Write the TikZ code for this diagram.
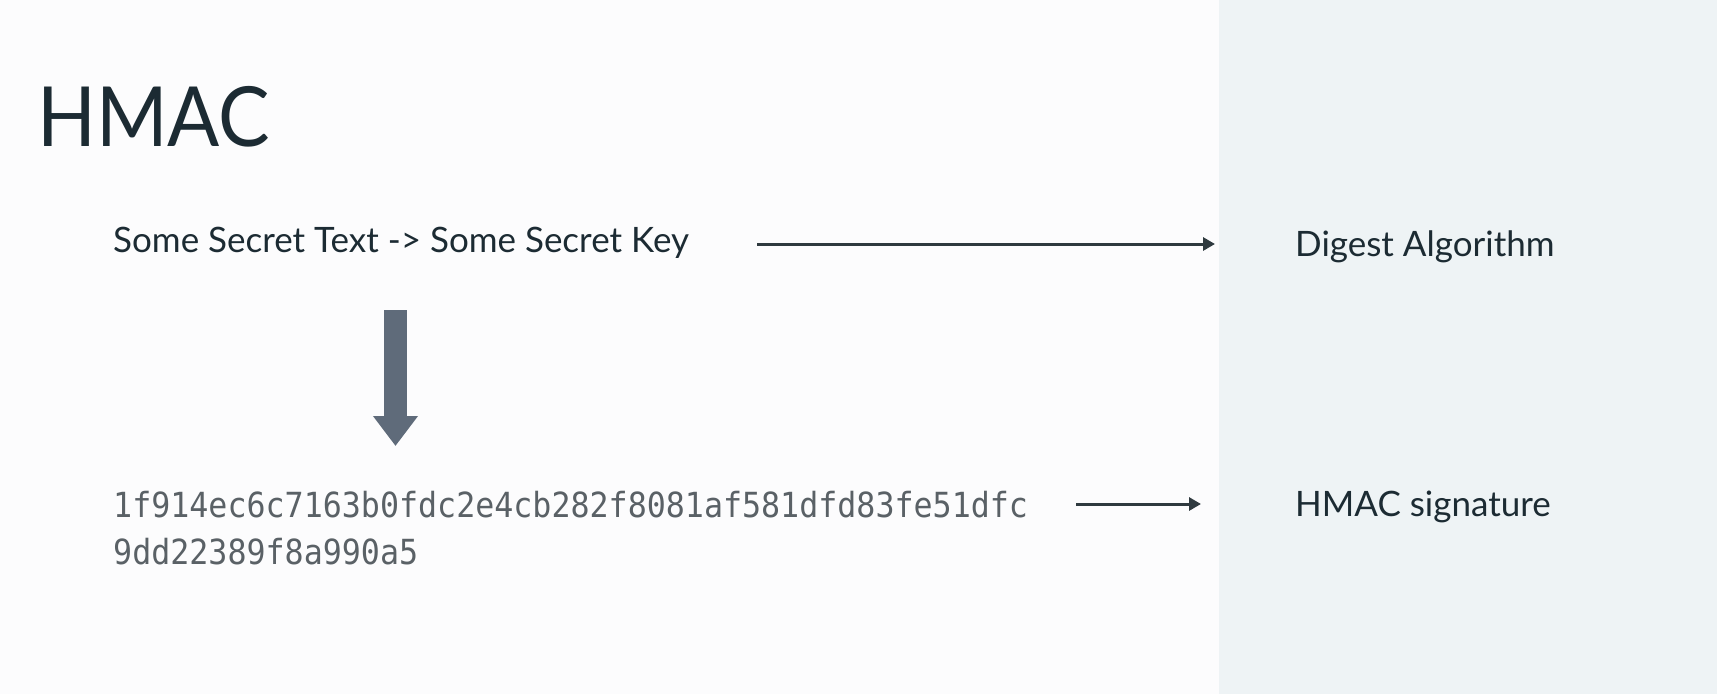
\documentclass[tikz,border=0pt]{standalone}
\usepackage{fontspec}
\setmainfont{Lato}
\setmonofont[FakeStretch=0.915]{DejaVu Sans Mono}
\newfontfamily\titlefont[FakeStretch=0.93]{Lato}
\usetikzlibrary{arrows.meta}
\definecolor{bgleft}{HTML}{FCFCFD}
\definecolor{panel}{HTML}{EEF3F5}
\definecolor{ink}{HTML}{1C2B33}
\definecolor{lineink}{HTML}{2F3A3F}
\definecolor{hexink}{HTML}{5A6166}
\definecolor{bigarrow}{HTML}{5F6B7A}
\tikzset{
  lbl/.style={anchor=base west, inner sep=0pt, text=ink, font=\fontsize{35}{40}\selectfont},
  hexlbl/.style={anchor=base west, inner sep=0pt, text=hexink, font=\ttfamily\fontsize{34.6}{47}\selectfont},
  flow/.style={draw=lineink, line width=3pt, -{Triangle[length=12pt,width=13pt]}},
  bigflow/.style={draw=bigarrow, line width=23pt, -{Triangle[length=30pt,width=43pt]}}
}
\begin{document}
\begin{tikzpicture}[x=1pt,y=-1pt]
\useasboundingbox (0,0) rectangle (1717,694);
\fill[bgleft] (0,0) rectangle (1219,694);
\fill[panel] (1219,0) rectangle (1717,694);
\node[anchor=base west, inner sep=0pt, text=ink, font=\titlefont\fontsize{83}{90}\selectfont] (title) at (37,146) {HMAC};
\node[lbl] (key) at (113,252) {Some Secret Text -> Some Secret Key};
\node[lbl] (digest) at (1295,256) {Digest Algorithm};
\node[hexlbl] (hex1) at (113,517) {1f914ec6c7163b0fdc2e4cb282f8081af581dfd83fe51dfc};
\node[hexlbl] (hex2) at (113,564) {9dd22389f8a990a5};
\node[lbl] (sig) at (1295,516) {HMAC signature};
\coordinate (a1s) at (757,244);
\coordinate (a1e) at (1215,244);
\draw[flow] (a1s) -- (a1e);
\coordinate (a2s) at (1076,504);
\coordinate (a2e) at (1201,504);
\draw[flow] (a2s) -- (a2e);
\coordinate (b1s) at (395.5,310);
\coordinate (b1e) at (395.5,446);
\draw[bigflow] (b1s) -- (b1e);
\end{tikzpicture}
\end{document}
